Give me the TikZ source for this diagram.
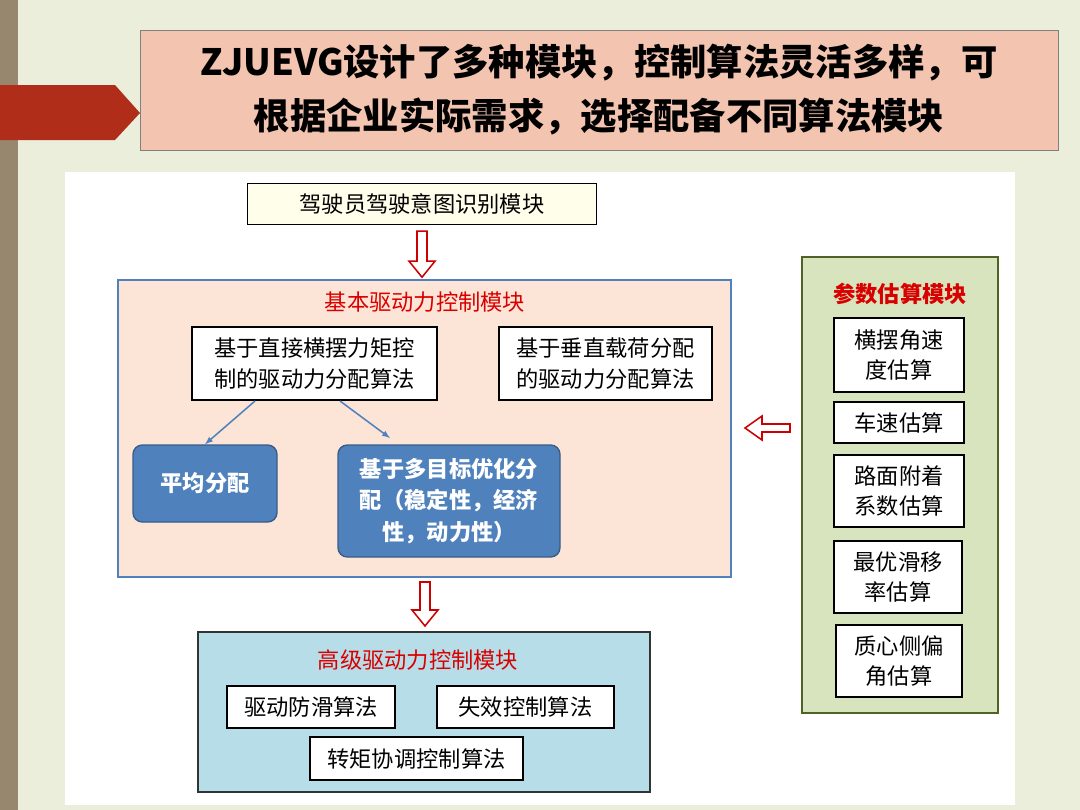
\documentclass[tikz,border=0pt]{standalone}
\usepackage{fontspec}
\setmainfont{Noto Sans CJK SC}
\definecolor{bg}{RGB}{236,238,220}
\definecolor{strip}{RGB}{150,135,110}
\definecolor{tab}{RGB}{175,45,25}
\definecolor{titlefill}{RGB}{243,196,176}
\definecolor{basicfill}{RGB}{252,228,214}
\definecolor{basicline}{RGB}{79,129,189}
\definecolor{rfill}{RGB}{79,129,189}
\definecolor{rline}{RGB}{56,93,138}
\definecolor{advfill}{RGB}{183,222,232}
\definecolor{parfill}{RGB}{215,228,189}
\definecolor{parline}{RGB}{80,98,40}
\begin{document}
\begin{tikzpicture}[x=0.03cm,y=-0.03cm,
  box/.style={draw=black,line width=1.2pt,fill=white,align=center,font=\fontsize{19}{26}\selectfont,inner sep=1pt},
  rbox/.style={draw=rline,line width=1.2pt,fill=rfill,rounded corners=8pt,align=center,text=white,font=\fontsize{19}{27}\selectfont\bfseries,inner sep=1pt},
  redt/.style={text=red!85!black,font=\fontsize{19}{24}\selectfont},
  harrow/.style={draw=red!80!black,line width=1.3pt,fill=white},
  blarrow/.style={draw=basicline,line width=1.3pt,-latex}]
\useasboundingbox (0,0) rectangle (1080,810);
\fill[bg] (0,0) rectangle (1080,810);
\fill[strip] (0,0) rectangle (18,810);
\fill[tab] (0,85) -- (115,85) -- (140,113) -- (115,140) -- (0,140) -- cycle;
\node[draw=gray,fill=titlefill,minimum width=918*0.03cm,minimum height=120*0.03cm,align=center,font=\fontsize{31}{46}\selectfont\bfseries,inner sep=1pt] (title) at (599,90) {ZJUEVG设计了多种模块，控制算法灵活多样，可\\根据企业实际需求，选择配备不同算法模块};
\fill[white] (65,172) rectangle (1015,805);
% driver
\node[box,fill=yellow!8!white,minimum width=349*0.03cm,minimum height=41*0.03cm] (drv) at (422,204) {驾驶员驾驶意图识别模块};
% basic
\node[draw=basicline,line width=1.5pt,fill=basicfill,minimum width=613*0.03cm,minimum height=297*0.03cm] (basic) at (424.5,428.5) {};
\node[redt] (bt) at (425,302) {基本驱动力控制模块};
\node[box,minimum width=245*0.03cm,minimum height=73*0.03cm] (b1) at (314.5,363.5) {基于直接横摆力矩控\\制的驱动力分配算法};
\node[box,minimum width=213*0.03cm,minimum height=73*0.03cm] (b2) at (605.5,363.5) {基于垂直载荷分配\\的驱动力分配算法};
\node[rbox,minimum width=144*0.03cm,minimum height=77*0.03cm] (avg) at (205,483.5) {平均分配};
\node[rbox,minimum width=222*0.03cm,minimum height=112*0.03cm] (opt) at (449,501) {基于多目标优化分\\配（稳定性，经济\\性，动力性）};
\draw[blarrow] (255,401) -- (avg.north);
\draw[blarrow] (340,401) -- (390,438);
% advanced
\node[draw=black!80,line width=1.5pt,fill=advfill,minimum width=452*0.03cm,minimum height=160*0.03cm] (adv) at (424,712) {};
\node[redt] (at) at (418,660) {高级驱动力控制模块};
\node[box,minimum width=168*0.03cm,minimum height=42*0.03cm] (a1) at (311,707) {驱动防滑算法};
\node[box,minimum width=177*0.03cm,minimum height=42*0.03cm] (a2) at (525.5,707) {失效控制算法};
\node[box,minimum width=213*0.03cm,minimum height=43*0.03cm] (a3) at (416.5,758.5) {转矩协调控制算法};
% param
\node[draw=parline,line width=1.5pt,fill=parfill,minimum width=196*0.03cm,minimum height=456*0.03cm] (par) at (900,485) {};
\node[redt,font=\fontsize{19}{24}\selectfont\bfseries] (pt) at (900,294) {参数估算模块};
\node[box,minimum width=130*0.03cm,minimum height=74*0.03cm] (p1) at (899,355) {横摆角速\\度估算};
\node[box,minimum width=130*0.03cm,minimum height=41*0.03cm] (p2) at (899,422.5) {车速估算};
\node[box,minimum width=130*0.03cm,minimum height=72*0.03cm] (p3) at (899,491) {路面附着\\系数估算};
\node[box,minimum width=128*0.03cm,minimum height=72*0.03cm] (p4) at (898,577) {最优滑移\\率估算};
\node[box,minimum width=126*0.03cm,minimum height=72*0.03cm] (p5) at (899,661) {质心侧偏\\角估算};
% hollow arrows
\coordinate (d1) at (drv.south);
\draw[harrow] ([xshift=-5*0.03cm,yshift=-6*0.03cm]d1) -- ++(10,0) -- ++(0,30) -- ++(8,0) -- ++(-13,16) -- ++(-13,-16) -- ++(8,0) -- cycle;
\coordinate (d2) at (425,582);
\draw[harrow] ([xshift=-5*0.03cm]d2) -- ++(10,0) -- ++(0,28) -- ++(8,0) -- ++(-13,16) -- ++(-13,-16) -- ++(8,0) -- cycle;
\coordinate (d3) at (790,424);
\draw[harrow] (d3) -- ++(-28,0) -- ++(0,-8) -- ++(-17,12) -- ++(17,12) -- ++(0,-8) -- ++(28,0) -- cycle;
\end{tikzpicture}
\end{document}
